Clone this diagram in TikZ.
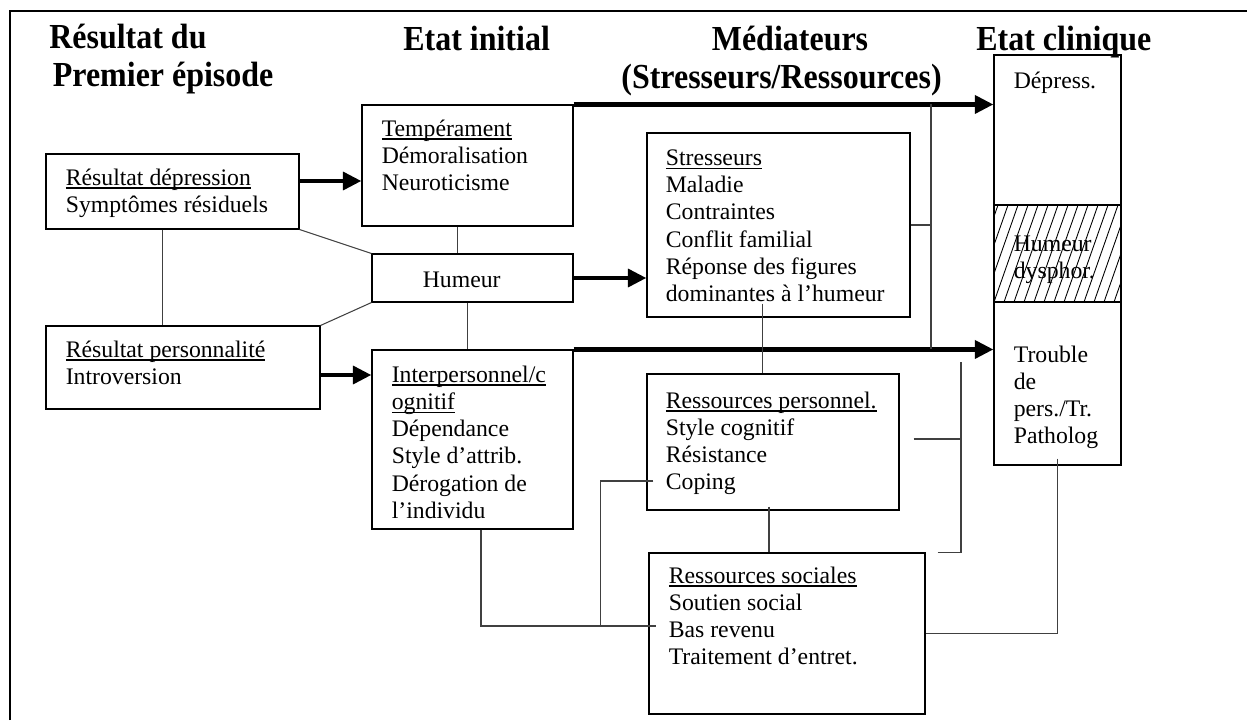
\documentclass[tikz,border=0pt]{standalone}
\usepackage{fontspec}
\setmainfont{Liberation Serif}
\newfontfamily\titrefont{Liberation Serif}[FakeStretch=0.91]
\usetikzlibrary{arrows.meta,calc,fit}
\newcommand{\corps}{\fontsize{13.5}{15.5}\selectfont}
\newcommand{\grand}{\titrefont\bfseries\fontsize{20}{21.5}\selectfont}
\newcommand{\souligne}[1]{\setbox0=\hbox{#1}\rlap{\rule[-2pt]{\wd0}{0.7pt}}\box0}

\begin{document}
\begin{tikzpicture}[x=0.02cm,y=-0.02cm,
  cadre/.style={draw,line width=0.6pt,inner sep=0pt},
  texte/.style={anchor=north west,yshift=9.2pt,align=left,inner sep=0pt,
    font=\corps,execute at begin node=\strut},
  titre/.style={anchor=north west,yshift=15.05pt,align=left,inner sep=0pt,
    font=\grand,execute at begin node=\strut},
  fleche/.style={line width=2.8pt,-{Triangle[length=0.37cm,width=0.35cm]}},
  lien/.style={line width=0.6pt,black!75}]
  \useasboundingbox (0,0) rectangle (1247,720);
  % cadre du tableau
  \draw[line width=1.7pt] (10,720) -- (10,11) -- (1247,11);%
  % titres des colonnes
  \node[titre] (tres) at (49,50) {Résultat du\\\hspace{2pt}Premier épisode};%
  \node[titre] (tinit) at (403,50) {Etat initial};%
  \node[titre,anchor=north] (tmed) at (790,50) {Médiateurs};%
  \node[titre] (tstr) at (621,88) {(Stresseurs/Ressources)};%
  \node[titre] (tclin) at (976,50) {Etat clinique};%
  % boites
  \node[cadre,fit={(46,154) (299,229)}] (resdep) {};%
  \node[cadre,fit={(46,326) (320,409)}] (respers) {};%
  \node[cadre,fit={(362,105) (573,226)}] (temp) {};%
  \node[cadre,fit={(372,254) (573,302)}] (humeur) {};%
  \node[cadre,fit={(372,350) (573,529)}] (interp) {};%
  \node[cadre,fit={(647,133) (910,317)}] (stress) {};%
  \node[cadre,fit={(647,374) (899,510)}] (rpers) {};%
  \node[cadre,fit={(649,553) (925,714)}] (rsoc) {};%
  \node[cadre,fit={(994,55) (1121,465)}] (clin) {};%
  % etat clinique : trois parties
  \begin{scope}
    \clip (994,205) rectangle (1121,302);
    \foreach \x in {954,964,...,1124}%
    \draw[line width=0.5pt] (\x,302) -- ++(34,-97);%
  \end{scope}
  \draw[cadre] (994,205) -- (1121,205);%
  \draw[cadre] (994,302) -- (1121,302);%
  % textes des boites
  \node[texte] at ($(resdep.north west)+(20,31)$) {\souligne{Résultat dépression}\\Symptômes résiduels};%
  \node[texte] at ($(respers.north west)+(20,31)$) {\souligne{Résultat personnalité}\\Introversion};%
  \node[texte] at ($(temp.north west)+(20,31)$) {\souligne{Tempérament}\\Démoralisation\\Neuroticisme};%
  \node[texte] at ($(humeur.north west)+(51,31)$) {Humeur};%
  \node[texte] at ($(interp.north west)+(20,32)$) {\souligne{Interpersonnel/c}\\\souligne{ognitif}\\Dépendance\\Style d’attrib.\\Dérogation de\\l’individu};%
  \node[texte] at ($(stress.north west)+(19,33)$) {\souligne{Stresseurs}\\Maladie\\Contraintes\\Conflit familial\\Réponse des figures\\dominantes à l’humeur};%
  \node[texte] at ($(rpers.north west)+(19,34)$) {\souligne{Ressources personnel.}\\Style cognitif\\Résistance\\Coping};%
  \node[texte] at ($(rsoc.north west)+(20,30)$) {\souligne{Ressources sociales}\\Soutien social\\Bas revenu\\Traitement d’entret.};%
  \node[texte] at ($(clin.north west)+(20,31)$) {Dépress.};%
  \node[texte] at ($(clin.north west)+(20,197)$) {Humeur\\dysphor.};%
  \node[texte] at ($(clin.north west)+(20,307)$) {Trouble\\de\\pers./Tr.\\Patholog};%
  % fleches epaisses
  \draw[fleche] ($(resdep.east)+(0,-10.5)$) coordinate (d1) -- (d1 -| temp.west);%
  \draw[fleche] ($(respers.east)+(0,7.5)$) coordinate (d2) -- (d2 -| interp.west);%
  \draw[fleche] (humeur.east) -- (humeur.east -| stress.west);%
  \draw[fleche] (temp.north east) -- (temp.north east -| clin.west);%
  \draw[fleche] (interp.north east) -- (interp.north east -| clin.west);%
  % liens simples
  \draw[lien] ($(temp.south)+(-10,0)$) coordinate (d3) -- (d3 |- humeur.north);%
  \draw[lien] ($(humeur.south)+(-5,0)$) coordinate (d4) -- (d4 |- interp.north);%
  \draw[lien] ($(resdep.south)+(-10,0)$) coordinate (d5) -- (d5 |- respers.north);%
  \draw[lien] (resdep.south east) -- (humeur.north west);%
  \draw[lien] (respers.north east) -- (humeur.south west);%
  \coordinate (bus) at (931,0);%
  \draw[lien] (temp.north east -| bus) -- (interp.north east -| bus);%
  \draw[lien] (stress.east) -- (stress.east -| bus);%
  \draw[lien] ($(stress.south)+(-16,-14)$) coordinate (d6) -- (d6 |- rpers.north);%
  \draw[lien] ($(rpers.south)+(-4,-4)$) coordinate (d7) -- (d7 |- rsoc.north);%
  \coordinate (crochet) at (961,362);%
  \draw[lien] ($(rsoc.north east)+(12,0)$) -- (rsoc.north east -| crochet) -- (crochet);%
  \draw[lien] ($(rpers.east)+(14,-3)$) coordinate (d8) -- (d8 -| crochet);%
  \draw[lien] ($(clin.south)+(0,-7)$) coordinate (d9) -- (d9 |- rsoc.east) -- (rsoc.east);%
  \coordinate (bas) at ($(rsoc.west)+(8,-7.5)$);%
  \draw[lien] ($(interp.south)+(8.5,0)$) coordinate (d10) -- (d10 |- bas) -- (bas);%
  \draw[lien] ($(rpers.west)+(7,39)$) coordinate (d11) -- ++(-53,0) coordinate (d12) -- (d12 |- bas);%
\end{tikzpicture}
\end{document}
